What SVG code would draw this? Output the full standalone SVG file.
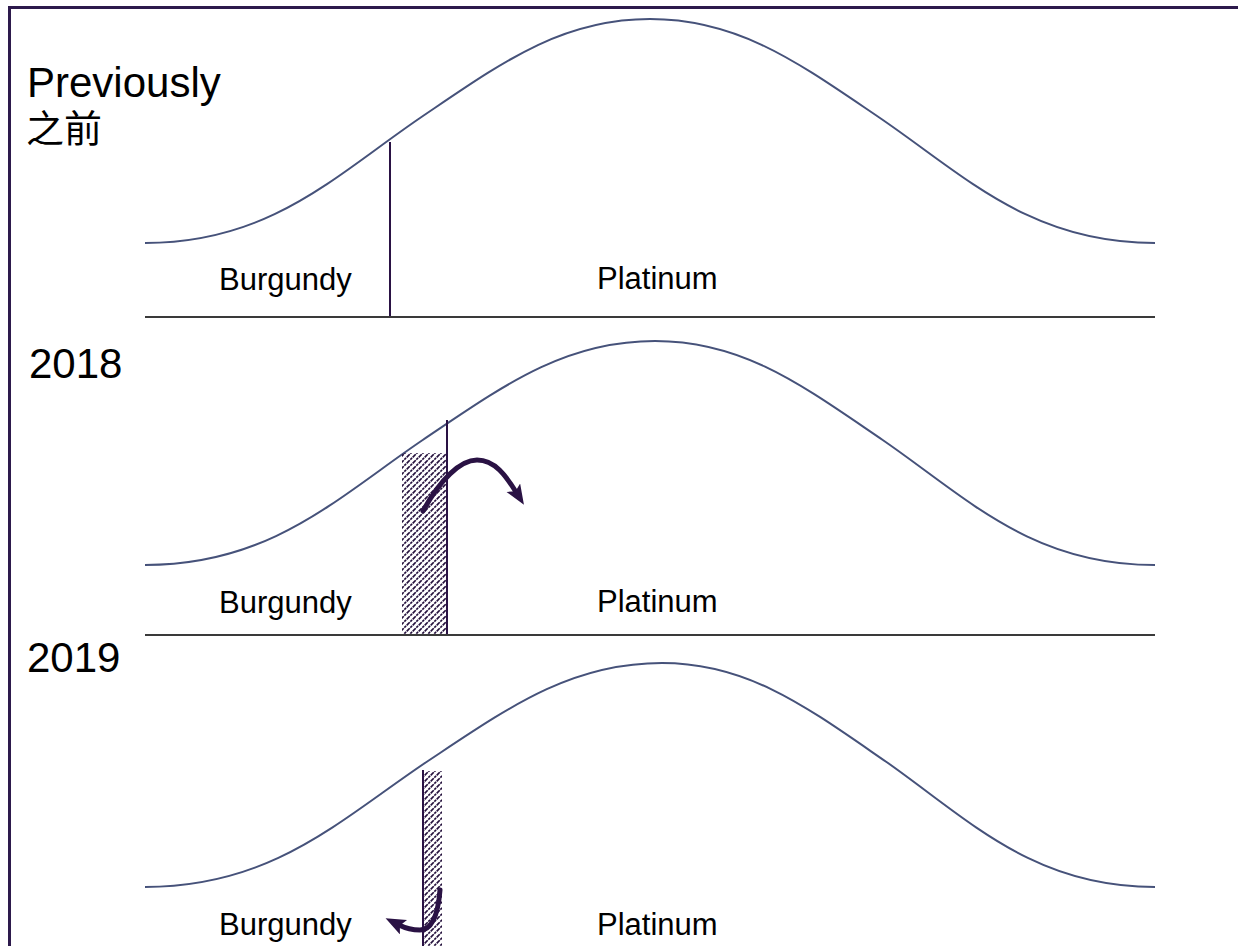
<svg xmlns="http://www.w3.org/2000/svg" width="1238" height="946" viewBox="0 0 1238 946">
  <defs>
    <pattern id="hatch" patternUnits="userSpaceOnUse" width="6" height="6">
      <path d="M0,6 L6,0 M-1,1 L1,-1 M5,7 L7,5" stroke="#24103c" stroke-width="1.6" stroke-dasharray="2.5 0.8"/>
    </pattern>
    <marker id="head" markerUnits="userSpaceOnUse" markerWidth="24" markerHeight="20" refX="5" refY="8" orient="auto">
      <path d="M0,0 L20,8 L0,16 L4,8 Z" fill="#2a1244"/>
    </marker>
    <style>
      .frame { fill: none; stroke: #2d1a4c; stroke-width: 3; }
      .bell { fill: none; stroke: #46527a; stroke-width: 2; }
      .sep { stroke: #3a3a3a; stroke-width: 2; }
      .div { stroke: #2a1244; stroke-width: 2; }
      .arrow { fill: none; stroke: #2a1244; stroke-width: 5; stroke-linecap: round; }
      .big { font-family: "Liberation Sans", Arial, sans-serif; font-size: 42px; fill: #000; }
      .cjk { font-family: "Noto Sans CJK SC", "Liberation Sans", sans-serif; font-size: 38px; fill: #000; }
      .lbl { font-family: "Liberation Sans", Arial, sans-serif; font-size: 31px; fill: #000; }
    </style>
  </defs>
  <rect width="1238" height="946" fill="#ffffff"/>
  <rect class="frame" x="9.5" y="7.5" width="1240" height="960"/>

  <g id="previously">
    <text class="big" x="27" y="97">Previously</text>
    <text class="cjk" x="26" y="142">之前</text>
    <path class="bell" d="M145,243 C270,243 335,176 420,118 C500,64 560,19 650,19 C740,19 800,64 880,118 C965,176 1030,243 1155,243"/>
    <line class="div" x1="390" y1="142" x2="390" y2="317"/>
    <text class="lbl" x="219" y="290">Burgundy</text>
    <text class="lbl" x="597" y="289">Platinum</text>
  </g>

  <g id="y2018">
    <text class="big" x="29" y="378">2018</text>
    <path class="bell" d="M145,565 C271,565 337,498 422.7,440 C503,386 564,341 655,341 C744,341 803,386 882.7,440 C967,498 1031,565 1155,565"/>
    <rect x="402" y="453" width="45" height="182" fill="url(#hatch)"/>
    <line class="div" x1="447" y1="420" x2="447" y2="635"/>
    <text class="lbl" x="219" y="613">Burgundy</text>
    <text class="lbl" x="597" y="612">Platinum</text>
  </g>

  <g id="y2019">
    <text class="big" x="27" y="672">2019</text>
    <path class="bell" d="M145,887 C273,887 340,820 426.5,762 C508,708 570,663 662,663 C749,663 808,708 886.5,762 C969,820 1033,887 1155,887"/>
    <rect x="423" y="771" width="19" height="180" fill="url(#hatch)"/>
    <line class="div" x1="423" y1="770" x2="423" y2="946"/>
    <text class="lbl" x="219" y="935">Burgundy</text>
    <text class="lbl" x="597" y="935">Platinum</text>
  </g>

  <g id="connectors">
    <line class="sep" x1="145" y1="317" x2="1155" y2="317"/>
    <line class="sep" x1="145" y1="635" x2="1155" y2="635"/>
    <path class="arrow" marker-end="url(#head)" d="M423,511 C440,480 460,460 477,460 C495,460 506,476 516,492"/>
    <path class="arrow" marker-end="url(#head)" d="M440,890 C438,915 432,930 420,930 C412,930 405,928 399,925"/>
  </g>
</svg>
